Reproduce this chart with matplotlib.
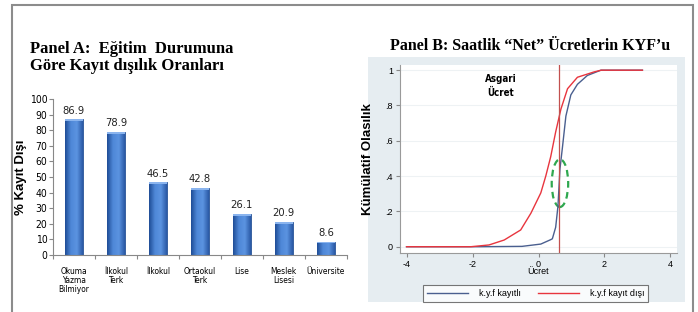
import numpy as np
import matplotlib.pyplot as plt
from matplotlib.patches import Rectangle, Ellipse
from matplotlib.colors import LinearSegmentedColormap

# Panel A verileri
kategoriler = ['Okuma\nYazma\nBilmiyor', 'İlkokul\nTerk', 'İlkokul', 'Ortaokul\nTerk',
               'Lise', 'Meslek\nLisesi', 'Üniversite']
kayit_disi = [86.9, 78.9, 46.5, 42.8, 26.1, 20.9, 8.6]

# Panel B verileri (grafikten okunan KYF noktaları)
kayitli_x = [-4.0, -1.8, -0.5, 0.07, 0.37, 0.42, 0.52, 0.59, 0.65, 0.73, 0.83, 0.98, 1.18, 1.48, 1.89, 3.15]
kayitli_y = [0.0, 0.0, 0.002, 0.015, 0.04, 0.045, 0.11, 0.23, 0.44, 0.57, 0.74, 0.86, 0.92, 0.97, 1.0, 1.0]
kayitdisi_x = [-4.0, -2.05, -1.5, -1.04, -0.54, -0.23, 0.07, 0.22, 0.37, 0.52, 0.68, 0.88, 1.18, 1.68, 1.9, 3.15]
kayitdisi_y = [0.0, 0.0, 0.01, 0.038, 0.095, 0.19, 0.305, 0.40, 0.51, 0.65, 0.78, 0.895, 0.96, 0.99, 1.0, 1.0]
asgari_ucret = 0.62

# dar yazı tipi (varsa condensed)
dar = dict(family='DejaVu Sans', stretch='condensed')
serif = ['Liberation Serif', 'DejaVu Serif']
kalin = ['Liberation Sans', 'DejaVu Sans']

fig = plt.figure(figsize=(6.98, 3.12), dpi=100)

# dış çerçeve
fig.add_artist(Rectangle((0.0172, -0.02), 0.9756, 1.004, transform=fig.transFigure,
                         fill=False, edgecolor='#8c8c8c', linewidth=1.5))

# ---------------- Panel A ----------------
fig.text(0.043, 0.83, 'Panel A:  Eğitim  Durumuna', family=serif, weight='bold', fontsize=12)
fig.text(0.043, 0.777, 'Göre Kayıt dışılık Oranları', family=serif, weight='bold', fontsize=12)

ax1 = fig.add_axes([0.0759, 0.1827, 0.421, 0.5])
x = range(len(kategoriler))
bars = ax1.bar(x, kayit_disi, width=0.42, color='#3c6fbf', edgecolor='#2a5597', linewidth=0.6)

# çubuklara yatay gradyan
gradyan = LinearSegmentedColormap.from_list('g', ['#1f4d96', '#4f88d8', '#5b93e0', '#2a5aa6'])
g = np.linspace(0, 1, 64).reshape(1, -1)
for b in bars:
    x0, w, h = b.get_x(), b.get_width(), b.get_height()
    im = ax1.imshow(g, cmap=gradyan, aspect='auto', extent=(x0, x0 + w, 0, h), zorder=2)
    im.set_clip_path(b)
    ax1.add_patch(Rectangle((x0, h - 1.2), w, 1.2, color='#8ab4ee', zorder=3, linewidth=0))

for b, v in zip(bars, kayit_disi):
    ax1.text(b.get_x() + b.get_width() / 2, v + 2.5, f'{v:.1f}', ha='center', va='bottom',
             fontsize=8, color='#222222', **dar)
ax1.set_ylim(0, 100)
ax1.set_xlim(-0.5, len(kategoriler) - 0.5)
ax1.set_yticks(range(0, 101, 10))
ax1.set_yticklabels([str(v) for v in range(0, 101, 10)], fontsize=7.5, **dar)
ax1.set_xticks([i - 0.5 for i in range(len(kategoriler) + 1)])
ax1.set_xticklabels([])
ax1.set_xticks(list(x), minor=True)
ax1.set_xticklabels(kategoriler, minor=True, fontsize=6, linespacing=0.95, **dar)
ax1.tick_params(axis='x', which='minor', length=0, pad=9)
ax1.tick_params(axis='x', which='major', length=3, color='#888888')
ax1.tick_params(axis='y', length=3, color='#888888', pad=1)
for s in ['top', 'right']:
    ax1.spines[s].set_visible(False)
for s in ['left', 'bottom']:
    ax1.spines[s].set_color('#888888')
ax1.set_ylabel('% Kayıt Dışı', family=kalin, fontweight='bold', fontsize=9.5, labelpad=2)

# ---------------- Panel B ----------------
fig.add_artist(Rectangle((0.527, 0.032), 0.454, 0.785, transform=fig.transFigure,
                         facecolor='#e6edf1', edgecolor='none', zorder=0))
fig.text(0.759, 0.84, 'Panel B: Saatlik “Net” Ücretlerin KYF’u', family=serif, weight='bold',
         fontsize=11.5, ha='center')

ax2 = fig.add_axes([0.573, 0.19, 0.397, 0.602])
ax2.plot(kayitli_x, kayitli_y, color='#4a5f8f', linewidth=1.0, label='k.y.f kayıtlı')
ax2.plot(kayitdisi_x, kayitdisi_y, color='#e8353e', linewidth=1.0, label='k.y.f kayıt dışı')
ax2.axvline(asgari_ucret, color='#c2504f', linewidth=0.9)
ax2.add_patch(Ellipse((0.65, 0.36), 0.5, 0.27, fill=False, edgecolor='#2fa84f',
                      linestyle=(0, (3, 2)), linewidth=1.6))
ax2.text(-1.14, 0.95, 'Asgari', ha='center', va='center', weight='bold', fontsize=7, **dar)
ax2.text(-1.14, 0.87, 'Ücret', ha='center', va='center', weight='bold', fontsize=7, **dar)
ax2.set_xlim(-4.2, 4.2)
ax2.set_ylim(-0.034, 1.03)
ax2.set_xticks([-4, -2, 0, 2, 4])
ax2.set_xticklabels(['-4', '-2', '0', '2', '4'], fontsize=6.5, family=kalin)
ax2.set_yticks([0, 0.2, 0.4, 0.6, 0.8, 1.0])
ax2.set_yticklabels(['0', '.2', '.4', '.6', '.8', '1'], fontsize=6.5, family=kalin)
ax2.grid(axis='y', color='#eef2f4', linewidth=0.8)
ax2.set_axisbelow(True)
ax2.tick_params(length=3, color='#888888', pad=2)
for s in ['top', 'right']:
    ax2.spines[s].set_visible(False)
for s in ['left', 'bottom']:
    ax2.spines[s].set_color('#9a9a9a')
ax2.set_xlabel('Ücret', fontsize=6.5, family=kalin, labelpad=-1)
ax2.set_ylabel('Kümülatif Olasılık', family=kalin, fontweight='bold', fontsize=9.5, labelpad=8)
leg = ax2.legend(loc='upper center', bbox_to_anchor=(0.49, -0.15), ncol=2,
                 prop={'family': kalin, 'size': 6.5},
                 frameon=True, fancybox=False, handlelength=4.5, columnspacing=2.0,
                 borderpad=0.4, handletextpad=1.2)
leg.get_frame().set_edgecolor('#555555')
leg.get_frame().set_linewidth(0.8)

fig.savefig('out.png', dpi=100)
